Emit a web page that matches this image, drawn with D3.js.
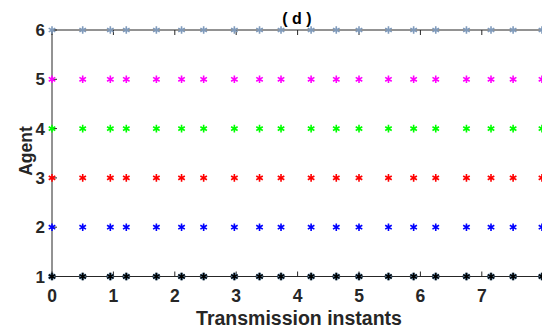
<!DOCTYPE html>
<html>
<head>
<meta charset="utf-8">
<script src="https://cdn.jsdelivr.net/npm/d3@7"></script>
<style>
  body { margin: 0; background: #fff; }
  svg { display: block; font-family: "Liberation Sans", Arial, sans-serif; }
</style>
</head>
<body>
<div id="chart"></div>
<script>
// transmission instants (same for every agent)
const instants = [0, 0.5, 0.95, 1.21, 1.7, 2.11, 2.47, 2.97, 3.38, 3.73,
                  4.22, 4.63, 5.0, 5.48, 5.89, 6.25, 6.75, 7.15, 7.51, 7.98];
const agents = [1, 2, 3, 4, 5, 6];
const agentColors = ["#000000", "#0000ff", "#ff0000", "#00ff00", "#ff00ff", "#7f9abb"];
const xTicks = [0, 1, 2, 3, 4, 5, 6, 7];
const yTicks = [1, 2, 3, 4, 5, 6];

const width = 542, height = 328;
const margin = { top: 30, right: -1, bottom: 52, left: 52 };

const svg = d3.select('#chart')
    .append('svg')
    .attr('width', width)
    .attr('height', height);

const xScale = d3.scaleLinear()
    .domain([0, 8])
    .range([margin.left, margin.left + 8 * 61.4]);

const yScale = d3.scaleLinear()
    .domain([1, 6])
    .range([height - margin.bottom + 0.5, margin.top]);

const axisColor = '#262626';

// box lines (left, bottom, top)
svg.append('line')
    .attr('x1', xScale(0)).attr('x2', xScale(0))
    .attr('y1', yScale(1)).attr('y2', yScale(6))
    .attr('stroke', axisColor);
svg.append('line')
    .attr('x1', xScale(0)).attr('x2', xScale(8))
    .attr('y1', yScale(1)).attr('y2', yScale(1))
    .attr('stroke', axisColor);
svg.append('line')
    .attr('x1', xScale(0)).attr('x2', xScale(8))
    .attr('y1', yScale(6)).attr('y2', yScale(6))
    .attr('stroke', axisColor);

// ticks pointing inwards
const tickLen = 5;
svg.append('g').selectAll('line')
    .data(xTicks)
    .join('line')
    .attr('x1', d => xScale(d)).attr('x2', d => xScale(d))
    .attr('y1', yScale(1)).attr('y2', yScale(1) - tickLen)
    .attr('stroke', axisColor);
svg.append('g').selectAll('line')
    .data(xTicks)
    .join('line')
    .attr('x1', d => xScale(d)).attr('x2', d => xScale(d))
    .attr('y1', yScale(6)).attr('y2', yScale(6) + tickLen)
    .attr('stroke', axisColor);
svg.append('g').selectAll('line')
    .data(yTicks)
    .join('line')
    .attr('x1', xScale(0)).attr('x2', xScale(0) + tickLen)
    .attr('y1', d => yScale(d)).attr('y2', d => yScale(d))
    .attr('stroke', axisColor);

// tick labels
svg.append('g').selectAll('text')
    .data(xTicks)
    .join('text')
    .attr('x', d => xScale(d))
    .attr('y', yScale(1) + 25)
    .attr('text-anchor', 'middle')
    .attr('font-size', 17.5)
    .attr('font-weight', 'bold')
    .attr('fill', axisColor)
    .text(d => d);

svg.append('g').selectAll('text')
    .data(yTicks)
    .join('text')
    .attr('x', xScale(0) - 7)
    .attr('y', d => yScale(d))
    .attr('dy', '0.36em')
    .attr('text-anchor', 'end')
    .attr('font-size', 17)
    .attr('font-weight', 'bold')
    .attr('fill', axisColor)
    .text(d => d);

// faint bluish halo under agent 1 markers
const star = d3.symbol(d3.symbolAsterisk, 40);
svg.append('g')
    .selectAll('path')
    .data(instants)
    .join('path')
    .attr('d', star)
    .attr('transform', d => `translate(${xScale(d)},${yScale(1)})`)
    .attr('stroke', '#5f86a8')
    .attr('stroke-width', 2.8)
    .attr('fill', 'none');

// markers for each agent
const rows = svg.append('g')
    .selectAll('g')
    .data(agents)
    .join('g')
    .attr('stroke', (d, i) => agentColors[i])
    .attr('fill', 'none');

rows.selectAll('path')
    .data(a => instants.map(t => ({ t, a })))
    .join('path')
    .attr('d', star)
    .attr('transform', d => `translate(${xScale(d.t)},${yScale(d.a)})`)
    .attr('stroke-width', 1.6);

// title and axis labels
svg.append('text')
    .attr('x', 297)
    .attr('y', 24)
    .attr('text-anchor', 'middle')
    .attr('font-size', 16)
    .attr('font-weight', 'bold')
    .attr('fill', '#000')
    .text('( d )');

svg.append('text')
    .attr('x', 299)
    .attr('y', 325)
    .attr('text-anchor', 'middle')
    .attr('font-size', 19.5)
    .attr('font-weight', 'bold')
    .attr('fill', axisColor)
    .text('Transmission instants');

svg.append('text')
    .attr('transform', `translate(32,151) rotate(-90)`)
    .attr('text-anchor', 'middle')
    .attr('font-size', 17.5)
    .attr('font-weight', 'bold')
    .attr('fill', axisColor)
    .text('Agent');
</script>
</body>
</html>
